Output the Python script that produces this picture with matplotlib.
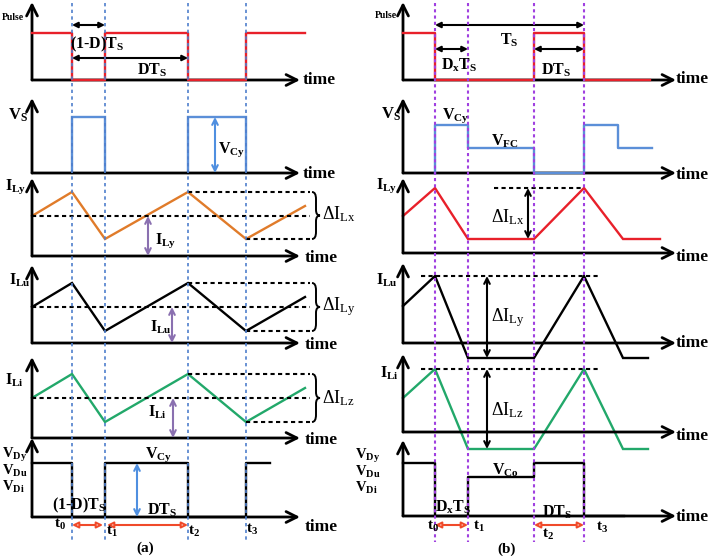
import matplotlib
matplotlib.use('Agg')
import matplotlib.pyplot as plt
from matplotlib.path import Path
from matplotlib.patches import PathPatch

plt.rcParams['font.family'] = ['Liberation Serif', 'DejaVu Serif']
plt.rcParams['mathtext.fontset'] = 'custom'
plt.rcParams['mathtext.rm'] = 'Liberation Serif'
plt.rcParams['mathtext.bf'] = 'Liberation Serif:bold'
plt.rcParams['mathtext.it'] = 'Liberation Serif:italic'

# ---------------- data (time units, level units) ----------------
# column (a): breakpoints 0, t0, t1, t2, t3, end
ta = [0, 4.0, 7.3, 15.6, 21.4, 27.3]
pulse_a = [4.7, 0, 4.7, 0, 4.7, 4.7]
vs_a_pulses = [(4.0, 7.3), (15.6, 21.4)]
vs_a_level = 5.6
ily_a = [4.0, 6.4, 1.7, 6.4, 1.7, 5.0]
ilu_a = [3.6, 6.0, 1.2, 6.0, 1.2, 4.6]
ili_a = [4.0, 6.4, 1.6, 6.4, 1.6, 5.0]
vd_a_t = [0, 4.0, 7.3, 15.6, 21.4, 23.8]
vd_a = [5.4, 0, 5.4, 0, 5.4, 5.4]

# column (b): breakpoints 0, t0, t1, t2, t3, fall end, end
tb_pulse = [0, 3.2, 13.1, 18.1, 24.7]
pulse_b = [4.7, 0, 4.7, 0, 0]
vs_b_t = [3.2, 3.2, 6.5, 13.1, 18.1, 21.5, 24.9]
vs_b = [0, 4.8, 2.5, 0, 4.8, 2.5, 2.5]
tb_ly = [0, 3.2, 6.5, 13.1, 18.1, 22.0, 25.7]
ily_b = [3.7, 6.5, 1.4, 1.4, 6.5, 1.4, 1.4]
tb_lu = [0, 3.2, 6.5, 13.1, 18.1, 22.0, 24.5]
ilu_b = [3.7, 6.7, -1.5, -1.5, 6.7, -1.5, -1.5]
ili_b = [3.4, 6.3, -1.7, -1.7, 6.3, -1.7, -1.7]
vd_b_t = [0, 3.2, 6.5, 13.1, 18.1, 22.1]
vd_b = [5.3, 0, 3.9, 5.3, 0, 0]

events_a = [4.0, 7.3, 15.6, 21.4]
events_b = [3.2, 6.5, 13.1, 18.1]

# ---------------- styling ----------------
FW, FH = 708, 556
fig = plt.figure(figsize=(FW / 100, FH / 100), dpi=100)

RED = '#E8202A'
BLUE = '#5B8FD8'
ORANGE = '#E07B2A'
GREEN = '#22A86A'
PURPLE = '#8A70B0'
BLUEARR = '#4F8FE0'
REDARR = '#F04A2A'
BLUEDOT = '#4F7FCC'
PURPDOT = '#A040E0'

OX_A, W_A = 32, 26.8
OX_B, W_B = 403, 27.3

AX_ARROW = dict(arrowstyle='->,head_length=0.6,head_width=0.3', lw=2,
                color='k', shrinkA=0, shrinkB=0, mutation_scale=13)


def panel(ox, W, base, top):
    h = (base - top) / 10
    ax = fig.add_axes([ox / FW, 1 - base / FH, W * 10 / FW, (base - top) / FH])
    ax.set_xlim(0, W)
    ax.set_ylim(0, h)
    ax.axis('off')
    ax.annotate('', xy=(0, h), xytext=(0, 0), arrowprops=AX_ARROW,
                annotation_clip=False)
    ax.annotate('', xy=(W, 0), xytext=(0, 0), arrowprops=AX_ARROW,
                annotation_clip=False)
    return ax


def line(ax, x, y, color, lw=1.7, **kw):
    ax.plot(x, y, color=color, lw=lw, clip_on=False, solid_joinstyle='miter', **kw)


def step(ax, x, y, color, lw=1.7):
    ax.step(x, y, where='post', color=color, lw=lw, clip_on=False, zorder=3)


def dashed(ax, x0, x1, y):
    ax.plot([x0, x1], [y, y], color='k', lw=1.5, ls=(0, (2, 1.6)), clip_on=False)


def darrow(ax, p0, p1, color, style='<->', lw=1.5, fc=None, ms=10):
    props = dict(arrowstyle=style, color=color, lw=lw, shrinkA=0, shrinkB=0,
                 mutation_scale=ms)
    if fc is not None:
        props['facecolor'] = fc
        props['edgecolor'] = color
        props.pop('color')
    ax.annotate('', xy=p1, xytext=p0, arrowprops=props, annotation_clip=False)


def brace(ax, x0, y0, y1, w=0.8):
    ym = (y0 + y1) / 2
    h = y1 - y0
    xm = x0 + w / 2
    xe = x0 + w
    verts = [(x0, y1), (xm, y1), (xm, y1 - 0.15 * h), (xm, ym + 0.12 * h),
             (xm, ym), (xe, ym), (xm, ym), (xm, ym - 0.12 * h),
             (xm, y0 + 0.15 * h), (xm, y0), (x0, y0)]
    codes = [Path.MOVETO, Path.CURVE3, Path.CURVE3, Path.LINETO,
             Path.CURVE3, Path.CURVE3, Path.CURVE3, Path.CURVE3,
             Path.LINETO, Path.CURVE3, Path.CURVE3]
    ax.add_patch(PathPatch(Path(verts, codes), fill=False, lw=1.4,
                           color='k', clip_on=False))


def T(px, py, s, size=11.5, weight='bold', ha='left', va='center', color='k'):
    fig.text(px / FW, 1 - py / FH, s, fontsize=size, fontweight=weight,
             ha=ha, va=va, color=color)


# ================= column (a) =================
a1 = panel(OX_A, W_A, 80, 2)
step(a1, ta, pulse_a, RED)
darrow(a1, (ta[1], 5.5), (ta[2], 5.5), 'k', style='<|-|>', ms=8)
darrow(a1, (ta[1], 2.2), (ta[3], 2.2), 'k', style='<|-|>', ms=8)

a2 = panel(OX_A, W_A, 173, 98)
for s0, s1 in vs_a_pulses:
    line(a2, [s0, s0, s1, s1], [0, vs_a_level, vs_a_level, 0], BLUE)
darrow(a2, (18.3, vs_a_level), (18.3, 0), BLUEARR)

a3 = panel(OX_A, W_A, 256, 178)
line(a3, ta, ily_a, ORANGE)
dashed(a3, 0, 27.8, ily_a[0])
dashed(a3, ta[3], 27.8, max(ily_a))
dashed(a3, ta[4], 27.8, min(ily_a))
brace(a3, 28.0, min(ily_a), max(ily_a))
darrow(a3, (11.6, ily_a[0]), (11.6, 0), PURPLE)

a4 = panel(OX_A, W_A, 343, 265)
line(a4, ta, ilu_a, 'k')
dashed(a4, 0, 27.8, ilu_a[0])
dashed(a4, ta[3], 27.8, max(ilu_a))
dashed(a4, ta[4], 27.8, min(ilu_a))
brace(a4, 28.0, min(ilu_a), max(ilu_a))
darrow(a4, (14.0, ilu_a[0]), (14.0, 0), PURPLE)

a5 = panel(OX_A, W_A, 438, 357)
line(a5, ta, ili_a, GREEN)
dashed(a5, 0, 27.8, ili_a[0])
dashed(a5, ta[3], 27.8, max(ili_a))
dashed(a5, ta[4], 27.8, min(ili_a))
brace(a5, 28.0, min(ili_a), max(ili_a))
darrow(a5, (14.1, ili_a[0]), (14.1, 0), PURPLE)

a6 = panel(OX_A, W_A, 517, 438)
step(a6, vd_a_t, vd_a, 'k')
darrow(a6, (10.5, vd_a[0]), (10.5, 0), BLUEARR)
darrow(a6, (ta[1], -0.8), (ta[2] - 0.2, -0.8), REDARR, style='<|-|>', fc='white', ms=9)
darrow(a6, (ta[2] + 0.2, -0.8), (ta[3], -0.8), REDARR, style='<|-|>', fc='white', ms=9)

ga = fig.add_axes([OX_A / FW, 0, W_A * 10 / FW, 1])
ga.set_xlim(0, W_A)
ga.set_ylim(FH / 10, 0)
ga.axis('off')
for e in events_a:
    ga.plot([e, e], [0.3, 54.2], color=BLUEDOT, lw=1.2, ls=(0, (2, 2)), clip_on=False)

# ================= column (b) =================
b1 = panel(OX_B, W_B, 80, 2)
step(b1, tb_pulse, pulse_b, RED)
darrow(b1, (events_b[0], 5.5), (events_b[3], 5.5), 'k', style='<|-|>', ms=8)
darrow(b1, (events_b[0], 3.1), (events_b[1], 3.1), 'k', style='<|-|>', ms=8)
darrow(b1, (events_b[2], 3.1), (events_b[3], 3.1), 'k', style='<|-|>', ms=8)

b2 = panel(OX_B, W_B, 173, 98)
step(b2, vs_b_t, vs_b, BLUE)

b3 = panel(OX_B, W_B, 253, 178)
line(b3, tb_ly, ily_b, RED)
dashed(b3, 9.1, events_b[3], max(ily_b))
darrow(b3, (12.5, max(ily_b)), (12.5, min(ily_b)), 'k')

b4 = panel(OX_B, W_B, 343, 263)
line(b4, tb_lu, ilu_b, 'k')
dashed(b4, 1.8, 19.7, max(ilu_b))
darrow(b4, (8.4, max(ilu_b)), (8.4, min(ilu_b)), 'k')

b5 = panel(OX_B, W_B, 432, 354)
line(b5, tb_lu, ili_b, GREEN)
dashed(b5, 1.8, 19.7, max(ili_b))
darrow(b5, (8.4, max(ili_b)), (8.4, min(ili_b)), 'k')

b6 = panel(OX_B, W_B, 516, 440)
step(b6, vd_b_t, vd_b, 'k')
darrow(b6, (events_b[0], -0.9), (events_b[1], -0.9), REDARR, style='<|-|>', fc='white', ms=9)
darrow(b6, (events_b[2], -0.9), (events_b[3], -0.9), REDARR, style='<|-|>', fc='white', ms=9)

gb = fig.add_axes([OX_B / FW, 0, W_B * 10 / FW, 1])
gb.set_xlim(0, W_B)
gb.set_ylim(FH / 10, 0)
gb.axis('off')
for e in events_b:
    gb.plot([e, e], [0.3, 54.2], color=PURPDOT, lw=1.5, ls=(0, (1.5, 1.5)), clip_on=False)

# ================= labels =================
TS = 12.5
VD = 10.5
# (a)
T(2, 17, 'Pulse', size=7)
T(70, 44, '(1-D)T$_\\mathbf{S}$')
T(137, 70, 'DT$_\\mathbf{S}$')
T(303, 80, 'time', size=TS)
T(8, 115, 'V$_\\mathbf{S}$', size=12)
T(218, 150, 'V$_\\mathbf{Cy}$')
T(303, 174, 'time', size=TS)
T(5, 187, 'I$_\\mathbf{Ly}$')
T(155, 241, 'I$_\\mathbf{Ly}$')
T(322, 214, '\u0394I$_\\mathrm{Lx}$', size=13, weight='normal')
T(305, 258, 'time', size=TS)
T(9, 280, 'I$_\\mathbf{Lu}$')
T(150, 327, 'I$_\\mathbf{Lu}$')
T(322, 307, '\u0394I$_\\mathrm{Ly}$', size=13, weight='normal')
T(305, 345, 'time', size=TS)
T(5, 380, 'I$_\\mathbf{Li}$')
T(148, 412, 'I$_\\mathbf{Li}$')
T(322, 398, '\u0394I$_\\mathrm{Lz}$', size=13, weight='normal')
T(305, 440, 'time', size=TS)
T(2, 455, 'V$_\\mathbf{Dy}$', size=VD)
T(2, 471, 'V$_\\mathbf{Du}$', size=VD)
T(2, 487, 'V$_\\mathbf{Di}$', size=VD)
T(145, 455, 'V$_\\mathbf{Cy}$')
T(147, 510, 'DT$_\\mathbf{S}$')
T(52, 505, '(1-D)T$_\\mathbf{S}$')
T(305, 527, 'time', size=TS)
T(54, 524, 't$_\\mathbf{0}$', size=11)
T(106, 531, 't$_\\mathbf{1}$', size=11)
T(188, 531, 't$_\\mathbf{2}$', size=11)
T(246, 529, 't$_\\mathbf{3}$', size=11)
T(145, 548, '(a)', size=11, ha='center')

# (b)
T(375, 15, 'Pulse', size=7)
T(500, 40, 'T$_\\mathbf{S}$')
T(441, 65, 'D$_\\mathbf{x}$T$_\\mathbf{S}$')
T(541, 70, 'DT$_\\mathbf{S}$')
T(676, 79, 'time', size=TS)
T(381, 114, 'V$_\\mathbf{S}$', size=12)
T(442, 116, 'V$_\\mathbf{Cy}$')
T(491, 141, 'V$_\\mathbf{FC}$')
T(676, 175, 'time', size=TS)
T(376, 186, 'I$_\\mathbf{Ly}$')
T(491, 217, '\u0394I$_\\mathrm{Lx}$', size=13, weight='normal')
T(676, 257, 'time', size=TS)
T(376, 280, 'I$_\\mathbf{Lu}$')
T(491, 318, '\u0394I$_\\mathrm{Ly}$', size=13, weight='normal')
T(676, 343, 'time', size=TS)
T(380, 373, 'I$_\\mathbf{Li}$')
T(491, 410, '\u0394I$_\\mathrm{Lz}$', size=13, weight='normal')
T(676, 436, 'time', size=TS)
T(355, 456, 'V$_\\mathbf{Dy}$', size=VD)
T(355, 472, 'V$_\\mathbf{Du}$', size=VD)
T(355, 488, 'V$_\\mathbf{Di}$', size=VD)
T(492, 470, 'V$_\\mathbf{Co}$')
T(435, 507, 'D$_\\mathbf{x}$T$_\\mathbf{S}$')
T(542, 512, 'DT$_\\mathbf{S}$')
T(676, 517, 'time', size=TS)
T(427, 526, 't$_\\mathbf{0}$', size=11)
T(473, 526, 't$_\\mathbf{1}$', size=11)
T(542, 534, 't$_\\mathbf{2}$', size=11)
T(596, 527, 't$_\\mathbf{3}$', size=11)
T(507, 549, '(b)', size=11, ha='center')

fig.savefig('out.png', dpi=100)
